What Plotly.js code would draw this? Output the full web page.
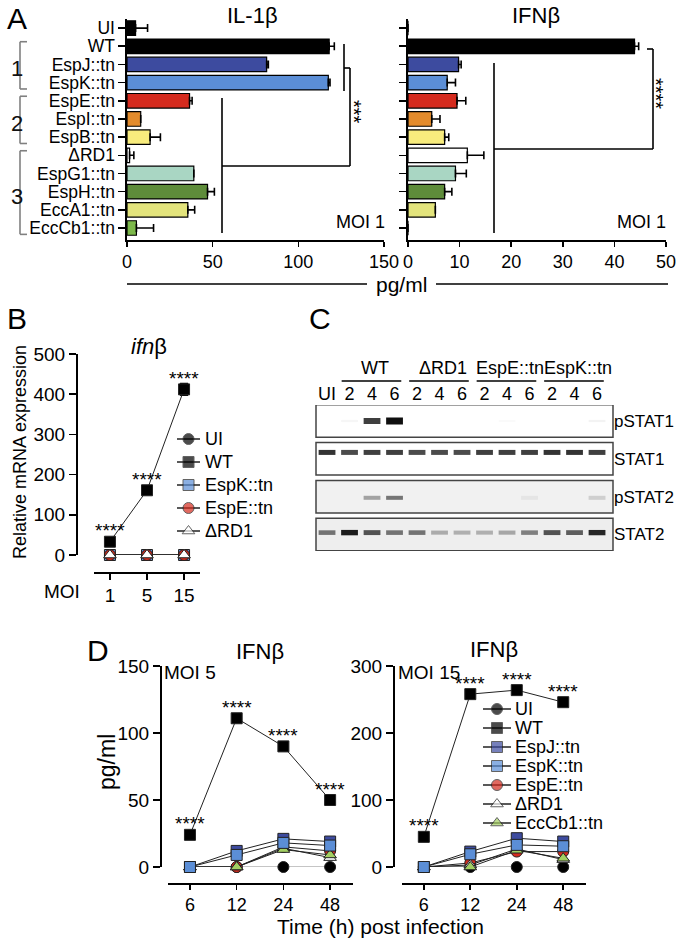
<!DOCTYPE html>
<html><head><meta charset="utf-8">
<script src="https://cdn.plot.ly/plotly-3.0.1.min.js"></script>
<style>html,body{margin:0;padding:0;background:#fff}#chart{width:677px;height:938px}</style>
</head><body><div id="chart"></div>
<script>
// ---------- Panel A data ----------
const strains = ['UI','WT','EspJ::tn','EspK::tn','EspE::tn','EspI::tn','EspB::tn','ΔRD1','EspG1::tn','EspH::tn','EccA1::tn','EccCb1::tn'];
const il1b    = [5,118,81.5,117.5,36.5,8,13.5,1.5,39,47,35.5,5.5];
const il1bErr = [7,3,1,1,1.5,0,6,2.5,0,4,4,10];
const ifnbA    = [0,43.9,9.8,7.6,9.5,4.6,7.1,11.5,9.2,7.1,5.3,0];
const ifnbAErr = [0,0.8,0.5,1.6,1.7,1.6,0.8,3.2,2.1,1.4,0,0];
const strainColors = ['#000000','#000000','#3d4b9f','#5b8ed6','#d52b1e','#e38b2c','#f8ec7d','#ffffff','#a9d6c3','#5e8c3a','#e3e47c','#7cb84a'];
const groupLabels = ['1','2','3'];
const groupFirst  = ['WT','EspE::tn','ΔRD1'];
const groupLast   = ['EspK::tn','EspB::tn','EccCb1::tn'];

// ---------- Panel B data ----------
const moiB = ['1','5','15'];
const mrnaUI   = [0,0,0];
const mrnaWT   = [33,161,412];
const mrnaWTErr= [3,4,15];
const mrnaEspK = [0,0,0];
const mrnaEspE = [0,0,0];
const mrnaRD1  = [0,0,0];
const seriesB = ['UI','WT','EspK::tn','EspE::tn','ΔRD1'];

// ---------- Panel C data ----------
const lanes = ['UI','2','4','6','2','4','6','2','4','6','2','4','6'];
const laneGroups = ['WT','ΔRD1','EspE::tn','EspK::tn'];
const laneGroupFirst = [1,4,7,10];
const laneGroupLast  = [3,6,9,12];
const blots = ['pSTAT1','STAT1','pSTAT2','STAT2'];
const bandPSTAT1 = [0,0.04,0.8,1.0,0,0,0,0,0.02,0,0,0,0.05];
const bandSTAT1  = [0.85,0.75,0.8,0.8,0.75,0.75,0.75,0.8,0.8,0.8,0.85,0.85,0.8];
const bandPSTAT2 = [0,0,0.35,0.55,0,0,0,0,0,0.05,0,0,0.15];
const bandSTAT2  = [0.55,0.95,0.7,0.55,0.55,0.3,0.28,0.28,0.32,0.5,0.7,0.65,0.9];

// ---------- Panel D data ----------
const hours = ['6','12','24','48'];
const seriesD = ['UI','WT','EspJ::tn','EspK::tn','EspE::tn','ΔRD1','EccCb1::tn'];
const moi5UI   = [0,0,0,0];
const moi5WT   = [24,111,90,50];
const moi5EspJ = [0,12,21,19];
const moi5EspK = [0,9,18,16];
const moi5EspE = [0,0,15,12];
const moi5RD1  = [0,0,14,7];
const moi5Ecc  = [0,0,13,9];
const moi15UI   = [0,0,0,0];
const moi15WT   = [45,258,264,246];
const moi15EspJ = [0,23,43,38];
const moi15EspK = [0,19,33,31];
const moi15EspE = [0,6,23,23];
const moi15RD1  = [0,3,27,11];
const moi15Ecc  = [0,0,25,13];

// ---------- styling ----------
const W = 677, H = 938;
const px = v => v / W;
const py = v => 1 - v / H;
const FONT = 'Liberation Sans, Arial, Helvetica, sans-serif';
const sty = {
  'UI':        {symbol:'circle',      color:'#000000'},
  'WT':        {symbol:'square',      color:'#000000'},
  'EspJ::tn':  {symbol:'square',      color:'#3d4b9f'},
  'EspK::tn':  {symbol:'square',      color:'#5b8ed6'},
  'EspE::tn':  {symbol:'circle',      color:'#d52b1e'},
  'ΔRD1':      {symbol:'triangle-up', color:'#ffffff'},
  'EccCb1::tn':{symbol:'triangle-up', color:'#a3cf62'}
};

const base = {showline:true, linecolor:'#000', linewidth:1.6, ticks:'outside', tickcolor:'#000', tickwidth:1.6,
  ticklen:6, showgrid:false, zeroline:false, fixedrange:true};
function ax(o){ return Object.assign({}, base, {tickfont:{size:18,color:'#000',family:FONT}}, o); }

const traces = [];
const zerosA = strains.map(() => 0);
traces.push({type:'bar', orientation:'h', x:il1b, y:strains, xaxis:'x', yaxis:'y', width:0.8,
  marker:{color:strainColors, line:{color:'#000', width:1.2}},
  error_x:{type:'data', array:il1bErr, arrayminus:zerosA, symmetric:false, color:'#000', thickness:1.6, width:4},
  hoverinfo:'skip', showlegend:false});
traces.push({type:'bar', orientation:'h', x:ifnbA, y:strains, xaxis:'x2', yaxis:'y2', width:0.8,
  marker:{color:strainColors, line:{color:'#000', width:1.2}},
  error_x:{type:'data', array:ifnbAErr, arrayminus:zerosA, symmetric:false, color:'#000', thickness:1.6, width:4},
  hoverinfo:'skip', showlegend:false});

// Panel B
const bData = {'UI':mrnaUI,'WT':mrnaWT,'EspK::tn':mrnaEspK,'EspE::tn':mrnaEspE,'ΔRD1':mrnaRD1};
seriesB.forEach(name => {
  const t = {type:'scatter', mode:'lines+markers', x:moiB, y:bData[name], xaxis:'x3', yaxis:'y3', cliponaxis:false,
    line:{color:'#222', width:1}, marker:{symbol:sty[name].symbol, color:sty[name].color, size:11, line:{color:'#222', width:1}},
    hoverinfo:'skip', showlegend:false};
  if (name === 'WT') t.error_y = {type:'data', array:mrnaWTErr, color:'#000', thickness:1.2, width:4};
  traces.push(t);
});

// Panel C bands
const bandData = [bandPSTAT1, bandSTAT1, bandPSTAT2, bandSTAT2];
const bandOffset = [0, -0.17, 0.03, -0.05];
const bandThick = [v => 2 + 5*v, v => 5, v => 4, v => 3.5 + 2*v];
bandData.forEach((arr, bi) => {
  traces.push({type:'scatter', mode:'markers', x:lanes.map((_, i) => i), y:arr.map(() => bi + bandOffset[bi]),
    xaxis:'x6', yaxis:'y6', cliponaxis:false,
    marker:{symbol:'line-ew-open', size:12, color:arr.map(v => 'rgba(15,15,15,' + v + ')'),
      line:{width:arr.map(bandThick[bi])}},
    hoverinfo:'skip', showlegend:false});
});

// Panel D
const d5 = {'UI':moi5UI,'WT':moi5WT,'EspJ::tn':moi5EspJ,'EspK::tn':moi5EspK,'EspE::tn':moi5EspE,'ΔRD1':moi5RD1,'EccCb1::tn':moi5Ecc};
const d15 = {'UI':moi15UI,'WT':moi15WT,'EspJ::tn':moi15EspJ,'EspK::tn':moi15EspK,'EspE::tn':moi15EspE,'ΔRD1':moi15RD1,'EccCb1::tn':moi15Ecc};
const drawOrder = ['UI','WT','EspE::tn','ΔRD1','EccCb1::tn','EspJ::tn','EspK::tn'];
[[d5,'x4','y4'],[d15,'x5','y5']].forEach(([dd, xa, ya]) => {
  drawOrder.forEach(name => {
    traces.push({type:'scatter', mode:'lines+markers', x:hours, y:dd[name], xaxis:xa, yaxis:ya, cliponaxis:false,
      line:{color: name === 'UI' ? '#8a8a8a' : '#222', width:1},
      marker:{symbol:sty[name].symbol, color:sty[name].color, size:11, line:{color:'#222', width:1}},
      hoverinfo:'skip', showlegend:false});
  });
});

// Manual legends (B and D)
function legendTraces(names, xa, ya){
  names.forEach((name, i) => {
    traces.push({type:'scatter', mode:'lines+markers', x:[0,1,2], y:[i,i,i], xaxis:xa, yaxis:ya, cliponaxis:false,
      line:{color:'#222', width:1.4},
      marker:{symbol:sty[name].symbol, color:sty[name].color, size:[0,11,0], line:{color:'#222', width:[0,1,0]}},
      hoverinfo:'skip', showlegend:false});
  });
}
legendTraces(seriesB, 'x7', 'y7');
legendTraces(seriesD, 'x8', 'y8');

// ---------- annotations ----------
const anns = [];
function ann(text, x, y, size, extra){
  anns.push(Object.assign({text:text, x:px(x), y:py(y), xref:'paper', yref:'paper', showarrow:false,
    xanchor:'center', yanchor:'middle', font:{size:size, color:'#000', family:FONT}}, extra||{}));
}
ann('A', 17, 18, 30);
ann('IL-1β', 252, 15, 22);
ann('IFNβ', 536, 15, 22);
ann('***', 354, 112, 20, {textangle:90});
ann('****', 656, 93, 20, {textangle:90});
ann('MOI 1', 360, 222, 18);
ann('MOI 1', 641, 222, 18);
ann('pg/ml', 401, 284, 21);
ann('B', 17, 318, 30);
ann('<i>ifn</i>β', 149, 347, 22);
ann('Relative mRNA expression', 20, 452, 18, {textangle:-90});
ann('MOI', 62, 591, 19);
ann('C', 320, 318, 30);
ann('D', 98, 650, 30);
ann('IFNβ', 260, 651, 22);
ann('IFNβ', 494, 649, 22);
ann('MOI 5', 190, 672, 19);
ann('MOI 15', 429, 672, 19);
ann('pg/ml', 107, 762, 23, {textangle:-90});
ann('Time (h) post infection', 381, 926, 21);

// group numbers in A
groupLabels.forEach((g, i) => {
  const a = strains.indexOf(groupFirst[i]), b = strains.indexOf(groupLast[i]);
  anns.push({text:g, x:px(9), xref:'paper', y:(a + b)/2 + 0.25, yref:'y', showarrow:false,
    font:{size:22, color:'#111', family:FONT}});
});
// lane-group headers in C
laneGroups.forEach((g, i) => {
  anns.push({text:g, x:(laneGroupFirst[i] + laneGroupLast[i])/2 + 0.15, xref:'x6', y:py(368), yref:'paper',
    showarrow:false, font:{size:18, color:'#000', family:FONT}});
});
// significance stars above WT points (x given as category index)
function stars(cats, ys, xa, ya){
  cats.forEach((c, i) => {
    anns.push({text:'****', x:i, y:ys[i], xref:xa, yref:ya, showarrow:false, yshift:11,
      font:{size:19, color:'#000', family:FONT}});
  });
}
stars(moiB, mrnaWT, 'x3', 'y3');
stars(hours, moi5WT, 'x4', 'y4');
stars(hours, moi15WT, 'x5', 'y5');
// legend labels
seriesB.forEach((n, i) => anns.push({text:n, x:2, y:i, xref:'x7', yref:'y7', xanchor:'left', xshift:3, showarrow:false,
  font:{size:18, color:'#000', family:FONT}}));
seriesD.forEach((n, i) => anns.push({text:n, x:2, y:i, xref:'x8', yref:'y8', xanchor:'left', xshift:2, showarrow:false,
  font:{size:18, color:'#000', family:FONT}}));

// ---------- shapes ----------
const shapes = [];
function seg(x0, y0, x1, y1, color, w){
  shapes.push({type:'line', xref:'paper', yref:'paper', x0:px(x0), y0:py(y0), x1:px(x1), y1:py(y1),
    line:{color:color||'#000', width:w||1.6}});
}
// significance brackets, panel A
seg(222, 98, 222, 233); seg(222, 166, 350, 166); seg(350, 68, 350, 166); seg(344, 68, 350, 68); seg(344, 44, 344, 91);
seg(494, 63, 494, 233); seg(494, 149, 653, 149); seg(653, 49, 653, 149); seg(647, 49, 653, 49);
// pg/ml rule
seg(127, 284, 367, 284); seg(436, 284, 668, 284);
// group brackets in A
groupLabels.forEach((g, i) => {
  const a = strains.indexOf(groupFirst[i]) - 0.25, b = strains.indexOf(groupLast[i]) + 0.35;
  const gl = {color:'#808080', width:1.6};
  shapes.push({type:'line', xref:'paper', yref:'y', x0:px(20), x1:px(20), y0:a, y1:b, line:gl});
  shapes.push({type:'line', xref:'paper', yref:'y', x0:px(20), x1:px(27), y0:a, y1:a, line:gl});
  shapes.push({type:'line', xref:'paper', yref:'y', x0:px(20), x1:px(27), y0:b, y1:b, line:gl});
});
// header underlines in C
laneGroups.forEach((g, i) => {
  shapes.push({type:'line', xref:'x6', yref:'paper', x0:laneGroupFirst[i] - 0.35, x1:laneGroupLast[i] + 0.3,
    y0:py(381), y1:py(381), line:{color:'#000', width:1.4}});
});
// blot frames
const blotFill = ['#ffffff','#ffffff','#f1f1f1','#eeeeee'];
blots.forEach((b, i) => {
  shapes.push({type:'rect', xref:'x6 domain', yref:'y6', x0:0, x1:1, y0:i - 0.43, y1:i + 0.43,
    line:{color:'#444', width:1.5}, fillcolor:blotFill[i], layer:'below'});
});

// ---------- layout ----------
const yCat = {type:'category', categoryorder:'array', categoryarray:strains, range:[11.66, -0.5],
  tickmode:'array', tickvals:strains, ticktext:strains};
const dTick = {size:18, color:'#000', family:FONT};
const layout = {
  width:W, height:H, margin:{l:0, r:0, t:0, b:0}, paper_bgcolor:'#fff', plot_bgcolor:'rgba(0,0,0,0)',
  showlegend:false, font:{family:FONT, color:'#000'},
  xaxis: ax({domain:[px(127), px(384)], range:[0,150], tickvals:[0,50,100,150], anchor:'y', ticklen:5}),
  yaxis: ax(Object.assign({domain:[py(240), py(19)], anchor:'x', ticklen:7, tickfont:{size:17.5, color:'#000', family:FONT}}, yCat)),
  xaxis2: ax({domain:[px(408), px(666)], range:[0,50], dtick:10, anchor:'y2', ticklen:5}),
  yaxis2: ax(Object.assign({domain:[py(240), py(19)], anchor:'x2', showticklabels:false, ticklen:7}, yCat)),
  xaxis3: ax({domain:[px(94), px(200)], type:'category', categoryorder:'array', categoryarray:moiB, range:[-0.43, 2.43],
    anchor:'free', position:py(572), tickfont:{size:19, color:'#000', family:FONT}}),
  yaxis3: ax({domain:[py(555), py(354)], range:[0,500], dtick:100, anchor:'free', position:px(76), ticklen:7,
    tickfont:{size:19, color:'#000', family:FONT}}),
  xaxis4: ax({domain:[px(168), px(353)], type:'category', categoryorder:'array', categoryarray:hours, range:[-0.47, 3.49],
    anchor:'free', position:py(883), ticklen:5, tickfont:dTick}),
  yaxis4: ax({domain:[py(867), py(666)], range:[0,150], dtick:50, anchor:'free', position:px(160), ticklen:7,
    tickfont:{size:19, color:'#000', family:FONT}}),
  xaxis5: ax({domain:[px(402), px(586)], type:'category', categoryorder:'array', categoryarray:hours, range:[-0.47, 3.49],
    anchor:'free', position:py(883), ticklen:5, tickfont:dTick}),
  yaxis5: ax({domain:[py(867), py(666)], range:[0,300], dtick:100, anchor:'free', position:px(393), ticklen:7,
    tickfont:{size:19, color:'#000', family:FONT}}),
  xaxis6: ax({domain:[px(316), px(613)], range:[-0.49, 12.71], side:'top', anchor:'free', position:py(404),
    showline:false, ticks:'', tickvals:lanes.map((_, i) => i), ticktext:lanes, tickfont:{size:18, color:'#000', family:FONT}}),
  yaxis6: ax({domain:[py(551), py(405)], range:[3.436, -0.423], anchor:'x6', side:'right', showline:false, ticks:'',
    tickvals:blots.map((_, i) => i), ticktext:blots, tickfont:{size:17, color:'#000', family:FONT}}),
  xaxis7: {domain:[px(177), px(200)], range:[0,2], visible:false, fixedrange:true, anchor:'y7'},
  yaxis7: {domain:[py(542.5), py(427.5)], range:[4.5,-0.5], visible:false, fixedrange:true, anchor:'x7'},
  xaxis8: {domain:[px(483), px(511)], range:[0,2], visible:false, fixedrange:true, anchor:'y8'},
  yaxis8: {domain:[py(832.5), py(699.5)], range:[6.5,-0.5], visible:false, fixedrange:true, anchor:'x8'},
  annotations: anns,
  shapes: shapes,
  bargap: 0.2
};
Plotly.newPlot('chart', traces, layout, {staticPlot:true, displayModeBar:false});
</script>
</body></html>
